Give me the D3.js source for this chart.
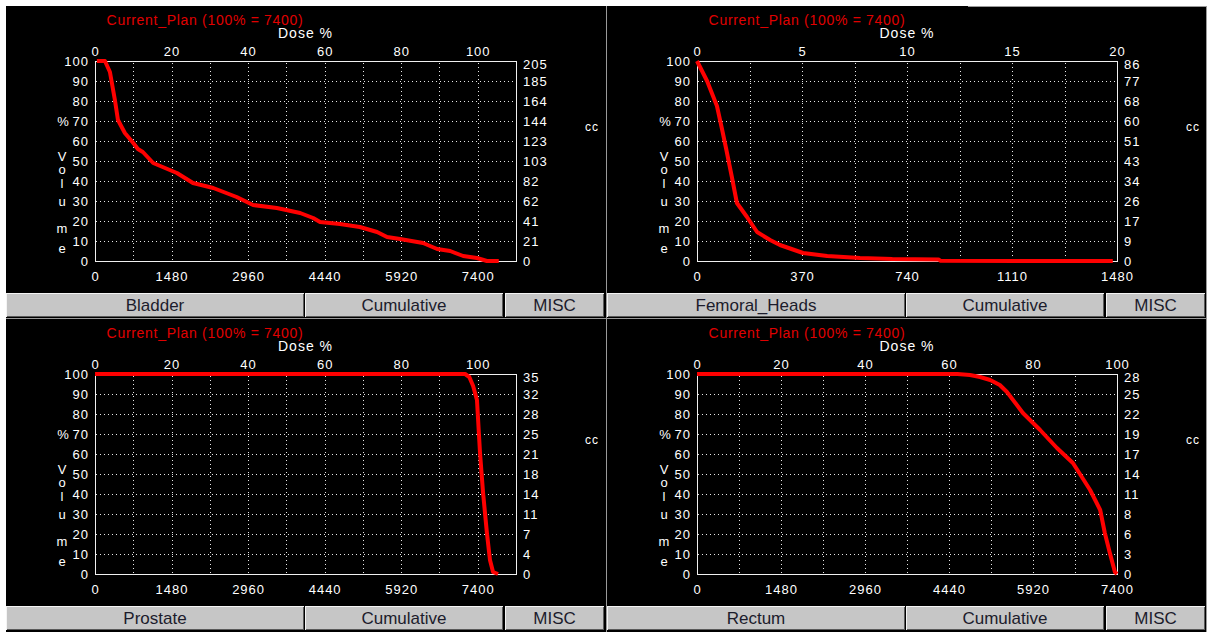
<!DOCTYPE html>
<html>
<head>
<meta charset="utf-8">
<script src="https://cdn.jsdelivr.net/npm/d3@7"></script>
<style>
  html, body { margin: 0; padding: 0; background: #fff; }
  svg { display: block; font-family: "Liberation Sans", Arial, sans-serif; }
</style>
</head>
<body>
<svg id="chart" width="1211" height="632"></svg>
<script>
// Cumulative dose-volume histograms, plan "Current_Plan" (100% = 7400 cGy)
// dose in % of prescription, volume in % of structure

const structureNames = ["Bladder", "Femoral_Heads", "Prostate", "Rectum"];

const bladderDose = [0.5, 2.6, 3.9, 5.2, 6.0, 7.8, 10.0, 11.2, 12.5, 15.2, 21.4, 25.6, 30.9, 37.0, 41.3, 47.5, 53.6, 57.0, 58.8, 64.0, 69.2, 73.7, 76.3, 79.7, 85.7, 89.4, 92.8, 96.2, 99.8, 102.4, 105.5];
const bladderVol  = [100, 100, 94.5, 80.5, 70.5, 64, 59, 56, 54.5, 49, 44, 39, 36.5, 32, 28, 26.5, 24, 21.5, 19.5, 18.5, 17, 14.5, 12, 11, 9, 6, 5, 2.5, 1.5, 0, 0];

const femoralDose = [0, 0.48, 0.95, 1.2, 1.4, 1.66, 1.9, 2.38, 2.86, 3.48, 3.95, 5.05, 6.2, 7.76, 9.3, 11.5, 11.6, 19.8];
const femoralVol  = [100, 90, 77.5, 65.5, 55.5, 42, 29, 22, 14.5, 10.5, 8, 4, 2.5, 1.5, 1, 0.8, 0.1, 0];

const prostateDose = [0, 96.7, 97.8, 98.8, 99.8, 100.6, 101.4, 102.4, 103.2, 104.0, 105.3];
const prostateVol  = [100, 100, 98.5, 94, 87, 60.5, 40.5, 20.5, 7, 1, 0];

const rectumDose = [0, 62, 65, 67.4, 69.8, 72.1, 73.8, 77.6, 81.7, 85.7, 89.5, 93.6, 96.0, 97.1, 98.3, 99.5, 100];
const rectumVol  = [100, 100, 99.5, 98.5, 97, 94.5, 91, 80.5, 72, 63, 55.5, 42, 32, 20.5, 10.5, 1, 0];

// dose axis extent (%) for each histogram
const doseMax = [110, 20, 110, 100];

// top axis: dose %, bottom axis: dose cGy
const doseTicks = [
  [0, 20, 40, 60, 80, 100],
  [0, 5, 10, 15, 20],
  [0, 20, 40, 60, 80, 100],
  [0, 20, 40, 60, 80, 100]
];
const cGyTicks = [
  [0, 1480, 2960, 4440, 5920, 7400],
  [0, 370, 740, 1110, 1480],
  [0, 1480, 2960, 4440, 5920, 7400],
  [0, 1480, 2960, 4440, 5920, 7400]
];
const gridStep = [10, 2.5, 10, 10];

// volume axis: % on the left, cc on the right
const volumeTicks = [0, 10, 20, 30, 40, 50, 60, 70, 80, 90, 100];
const ccLabels = [
  ["0", "21", "41", "62", "82", "103", "123", "144", "164", "185", "205"],
  ["0", "9", "17", "26", "34", "43", "51", "60", "68", "77", "86"],
  ["0", "4", "7", "11", "14", "18", "21", "25", "28", "32", "35"],
  ["0", "3", "6", "8", "11", "14", "17", "19", "22", "25", "28"]
];

const planTitle = "Current_Plan (100% = 7400)";
const histogramType = "Cumulative";
const miscLabel = "MISC";

const curves = [
  bladderDose.map((d, i) => ({ dose: d, vol: bladderVol[i] })),
  femoralDose.map((d, i) => ({ dose: d, vol: femoralVol[i] })),
  prostateDose.map((d, i) => ({ dose: d, vol: prostateVol[i] })),
  rectumDose.map((d, i) => ({ dose: d, vol: rectumVol[i] }))
];

// ---- layout ----
const svg = d3.select("#chart");
const panelX = [6, 607];
const panelY = [6, 319];
const plotLeft = [95, 697];
const plotWidth = [421, 420];
const plotTopOff = 55;
const plotH = 200;

// black window background
svg.append("rect").attr("x", 6).attr("y", 6).attr("width", 1200).attr("height", 626).attr("fill", "#000");
// window separators
const sep = svg.append("g").attr("stroke", "#9a9a9a").attr("stroke-width", 1).attr("shape-rendering", "crispEdges");
sep.append("line").attr("x1", 606.5).attr("x2", 606.5).attr("y1", 6).attr("y2", 632);
sep.append("line").attr("x1", 1206.5).attr("x2", 1206.5).attr("y1", 6).attr("y2", 632);
sep.append("line").attr("x1", 6).attr("x2", 1206).attr("y1", 318.5).attr("y2", 318.5);
sep.append("line").attr("x1", 968).attr("x2", 1206).attr("y1", 6.5).attr("y2", 6.5);

const tickFont = 13;

structureNames.forEach((name, k) => {
  const col = k % 2, row = Math.floor(k / 2);
  const px = panelX[col], py = panelY[row];
  const left = plotLeft[col], top = py + plotTopOff;
  const w = plotWidth[col];

  const x = d3.scaleLinear().domain([0, doseMax[k]]).range([0, w]);
  const xc = d3.scaleLinear().domain([0, doseMax[k] * 74]).range([0, w]);
  const y = d3.scaleLinear().domain([0, 100]).range([plotH, 0]);

  const g = svg.append("g").attr("transform", `translate(${left},${top})`);

  // plan title and dose axis caption
  g.append("text").attr("x", 110).attr("y", -36).attr("text-anchor", "middle")
    .attr("fill", "#e00000").attr("font-size", 14).attr("letter-spacing", 0.7).text(planTitle);
  g.append("text").attr("x", w / 2).attr("y", -23).attr("text-anchor", "middle")
    .attr("fill", "#fff").attr("font-size", 14).attr("letter-spacing", 1).text("Dose %");

  // dotted grid
  const grid = g.append("g").attr("stroke", "#e8e8e8").attr("stroke-width", 1)
    .attr("stroke-dasharray", "1,3").attr("shape-rendering", "crispEdges");
  const vGrid = d3.range(gridStep[k], doseMax[k] - 1e-6, gridStep[k]);
  grid.selectAll(".vg").data(vGrid).join("line")
    .attr("x1", d => Math.round(x(d)) + 0.5).attr("x2", d => Math.round(x(d)) + 0.5)
    .attr("y1", 2).attr("y2", plotH);
  grid.selectAll(".hg").data(volumeTicks.slice(1, -1)).join("line")
    .attr("x1", 1).attr("x2", w)
    .attr("y1", d => y(d) + 0.5).attr("y2", d => y(d) + 0.5);

  // frame
  g.append("rect").attr("x", 0.5).attr("y", 0.5).attr("width", w).attr("height", plotH)
    .attr("fill", "none").attr("stroke", "#f0f0f0").attr("stroke-width", 1)
    .attr("shape-rendering", "crispEdges");

  const styleAxis = (sel) => {
    sel.select(".domain").remove();
    sel.selectAll("line").remove();
    sel.selectAll("text").attr("fill", "#fff").attr("font-size", tickFont)
      .attr("letter-spacing", 1).attr("font-family", "Liberation Sans, Arial, sans-serif");
  };

  g.append("g").call(d3.axisTop(x).tickValues(doseTicks[k]).tickSize(0).tickPadding(5).tickFormat(d3.format("d")))
    .call(styleAxis);
  g.append("g").attr("transform", `translate(0,${plotH})`)
    .call(d3.axisBottom(xc).tickValues(cGyTicks[k]).tickSize(0).tickPadding(11).tickFormat(d3.format("d")))
    .call(styleAxis);
  g.append("g")
    .call(d3.axisLeft(y).tickValues(volumeTicks).tickSize(0).tickPadding(6).tickFormat(d3.format("d")))
    .call(styleAxis);
  const ccAxis = g.append("g").attr("transform", `translate(${w},0)`)
    .call(d3.axisRight(y).tickValues(volumeTicks).tickSize(0).tickPadding(7).tickFormat((d, i) => ccLabels[k][i]))
    .call(styleAxis);
  // the topmost cc label sits a touch lower, clear of the top dose label
  ccAxis.selectAll(".tick").filter(d => d === 100).select("text").attr("y", 3);

  // axis captions
  g.append("text").attr("x", -32).attr("y", y(70) + 5).attr("text-anchor", "middle")
    .attr("fill", "#fff").attr("font-size", tickFont).text("%");
  const letters = ["V", "o", "l", "u", "m", "e"];
  const letterY = [156, 169, 183, 201, 228, 248];
  g.selectAll(".vl").data(letters).join("text")
    .attr("x", -33).attr("y", (d, i) => letterY[i] - 61 + 5).attr("text-anchor", "middle")
    .attr("fill", "#fff").attr("font-size", tickFont).text(d => d);
  g.append("text").attr("x", w + 76).attr("y", y(67) + 4).attr("text-anchor", "middle")
    .attr("fill", "#fff").attr("font-size", 12).attr("letter-spacing", 1).text("cc");

  // DVH curve
  const line = d3.line().x(d => x(d.dose)).y(d => y(d.vol));
  g.append("path").datum(curves[k]).attr("d", line)
    .attr("fill", "none").attr("stroke", "#ff0000").attr("stroke-width", 4)
    .attr("stroke-linejoin", "round").attr("stroke-linecap", "butt");

  // button strip under the plot
  const by = top + 232, bh = 24;
  const buttons = [
    { x0: 0, x1: 298, label: name },
    { x0: 299, x1: 497, label: histogramType },
    { x0: 499, x1: 598, label: miscLabel }
  ];
  const bg = svg.append("g").attr("transform", `translate(${px},${by})`);
  buttons.forEach(b => {
    const bw = b.x1 - b.x0;
    bg.append("rect").attr("x", b.x0).attr("y", 0).attr("width", bw).attr("height", bh).attr("fill", "#c6c6c6");
    bg.append("path").attr("d", `M${b.x0 + 0.5},${bh - 0.5}V0.5H${b.x1 - 0.5}`)
      .attr("fill", "none").attr("stroke", "#f4f4f4").attr("shape-rendering", "crispEdges");
    bg.append("path").attr("d", `M${b.x0 + 0.5},${bh - 0.5}H${b.x1 - 0.5}V0.5`)
      .attr("fill", "none").attr("stroke", "#5a5a5a").attr("shape-rendering", "crispEdges");
    bg.append("text").attr("x", (b.x0 + b.x1) / 2).attr("y", bh / 2 + 6).attr("text-anchor", "middle")
      .attr("fill", "#1c1c2c").attr("font-size", 17).text(b.label);
  });
});
</script>
</body>
</html>
